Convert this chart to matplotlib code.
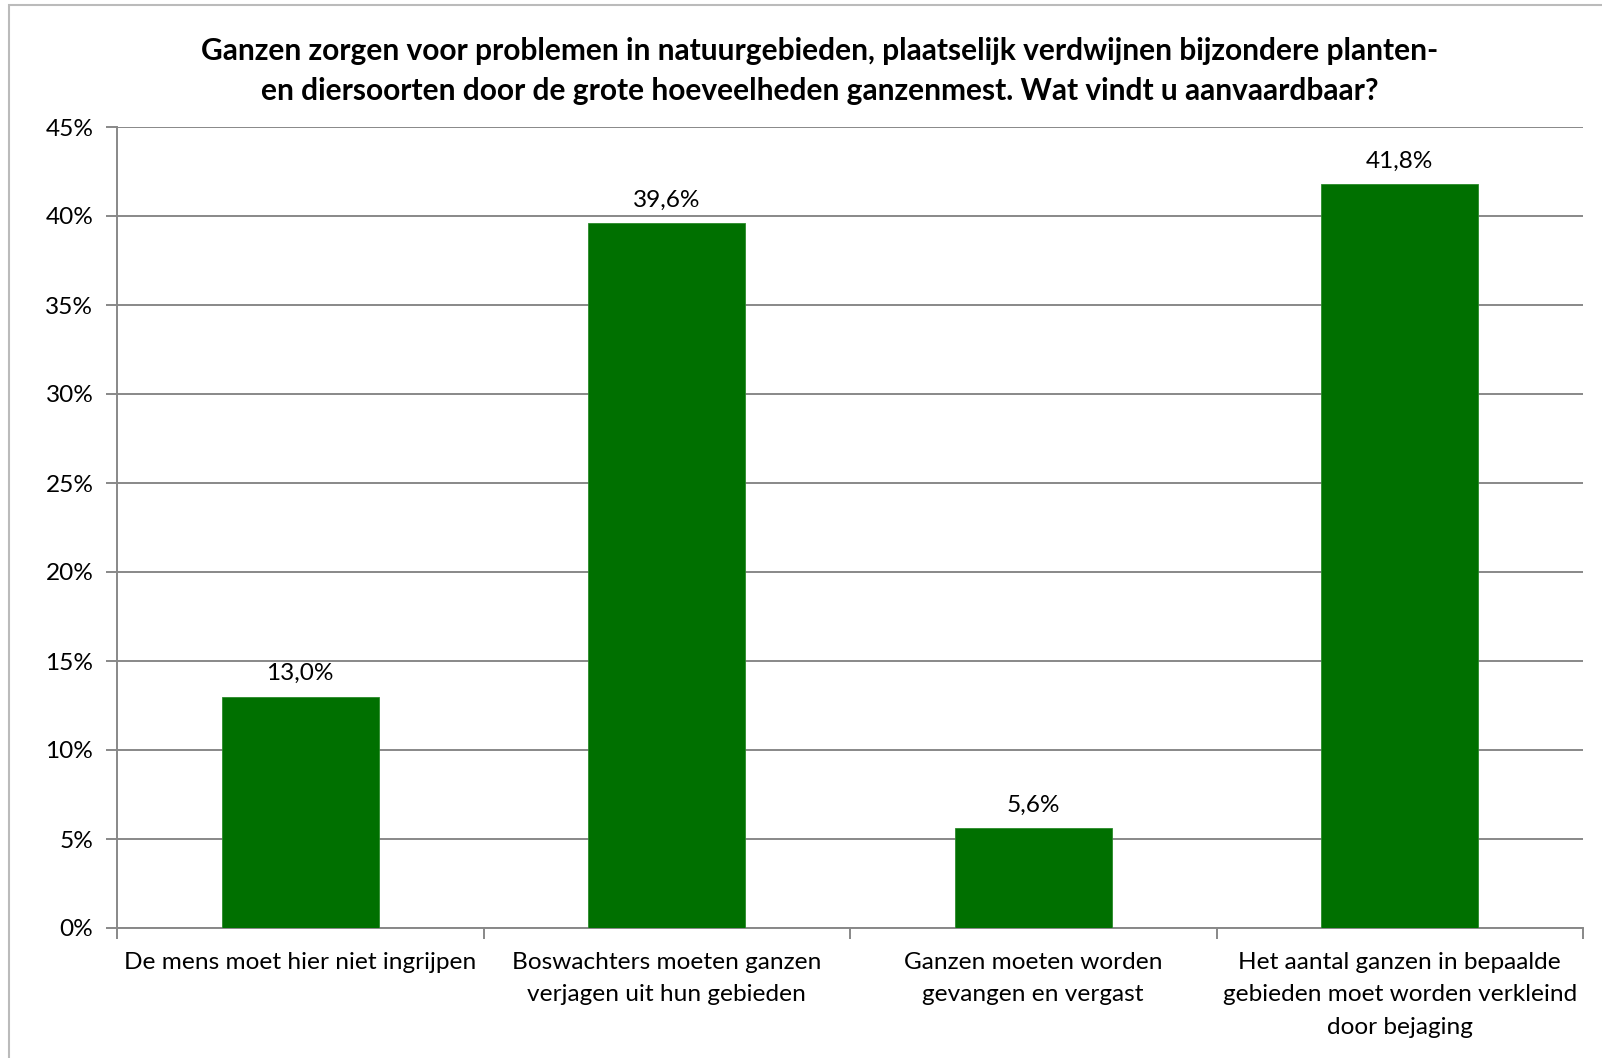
import matplotlib.pyplot as plt
from matplotlib.patches import Rectangle

plt.rcParams['font.family'] = ['Lato', 'DejaVu Sans']

categories = [
    'De mens moet hier niet ingrijpen',
    'Boswachters moeten ganzen\nverjagen uit hun gebieden',
    'Ganzen moeten worden\ngevangen en vergast',
    'Het aantal ganzen in bepaalde\ngebieden moet worden verkleind\ndoor bejaging',
]
values = [13.0, 39.6, 5.6, 41.8]
yticks = [0, 5, 10, 15, 20, 25, 30, 35, 40, 45]

title = ('Ganzen zorgen voor problemen in natuurgebieden, plaatselijk verdwijnen bijzondere planten-\n'
         'en diersoorten door de grote hoeveelheden ganzenmest. Wat vindt u aanvaardbaar?')

GREEN = '#007000'
GRID = '#888888'
FS = 17.6

fig = plt.figure(figsize=(16.02, 10.58), dpi=100)
ax = fig.add_axes([117 / 1602, 1 - 928 / 1058, (1583 - 117) / 1602, (928 - 127) / 1058])

x = list(range(len(values)))
ax.bar(x, values, width=0.428, color=GREEN, edgecolor='#2a8a2a', linewidth=0.6, zorder=3)
for xi, v in zip(x, values):
    ax.text(xi, v + 0.7, f'{v:.1f}%'.replace('.', ','), ha='center', va='bottom', fontsize=FS)

ax.set_xlim(-0.5, len(values) - 0.5)
ax.set_ylim(0, 45)
ax.set_yticks(yticks)
ax.set_yticklabels([f'{t}%' for t in yticks], fontsize=FS)
ax.yaxis.grid(True, color=GRID, linewidth=1.4, zorder=0)
ax.set_axisbelow(True)

ax.set_xticks(x)
ax.set_xticklabels(categories, fontsize=FS, linespacing=1.68)
ax.set_xticks([i - 0.5 for i in range(len(values) + 1)], minor=True)
ax.tick_params(axis='x', which='major', length=0, pad=17)
ax.tick_params(axis='x', which='minor', length=8, width=1.4, color=GRID, direction='out')
ax.tick_params(axis='y', length=8, width=1.4, color=GRID, direction='out', pad=9)

for side in ['top', 'right']:
    ax.spines[side].set_visible(False)
for side in ['left', 'bottom']:
    ax.spines[side].set_color(GRID)
    ax.spines[side].set_linewidth(1.4)

fig.text(820 / 1602, 1 - 71 / 1058, title, ha='center', va='center', fontsize=21.5,
         fontweight='bold', linespacing=1.5)

fig.patches.append(Rectangle((9 / 1602, -0.01), 1.1, 1 - 5 / 1058 + 0.01, transform=fig.transFigure,
                             fill=False, edgecolor='#bbbbbb', linewidth=1.5))

plt.savefig('out.png', dpi=100)
